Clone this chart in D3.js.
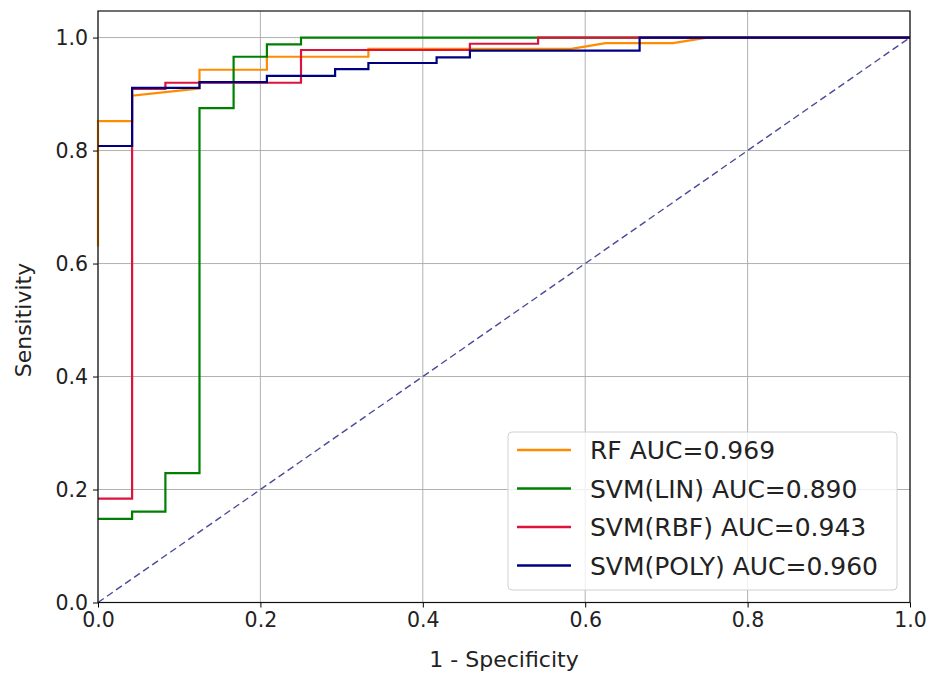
<!DOCTYPE html>
<html>
<head>
<meta charset="utf-8">
<script src="https://cdn.jsdelivr.net/npm/d3@7"></script>
<style>
  body { margin: 0; background: #fff; }
  svg { display: block; font-family: "DejaVu Sans", sans-serif; }
</style>
</head>
<body>
<svg width="932" height="677"></svg>
<script>

// ROC points (1 - specificity, sensitivity)
var rfFpr  = [0, 0, 0.042, 0.042, 0.125, 0.125, 0.208, 0.208, 0.333, 0.333, 0.583, 0.625, 0.708, 0.75, 1];
var rfTpr  = [0.63, 0.852, 0.852, 0.897, 0.91, 0.943, 0.943, 0.966, 0.966, 0.98, 0.98, 0.99, 0.99, 1, 1];

var linFpr = [0, 0.042, 0.042, 0.083, 0.083, 0.125, 0.125, 0.167, 0.167, 0.208, 0.208, 0.25, 0.25, 1];
var linTpr = [0.148, 0.148, 0.161, 0.161, 0.229, 0.229, 0.875, 0.875, 0.966, 0.966, 0.988, 0.988, 1, 1];

var rbfFpr = [0, 0.042, 0.042, 0.083, 0.083, 0.25, 0.25, 0.458, 0.458, 0.542, 0.542, 1];
var rbfTpr = [0.184, 0.184, 0.909, 0.909, 0.92, 0.92, 0.978, 0.978, 0.989, 0.989, 1, 1];

var polyFpr = [0, 0.042, 0.042, 0.125, 0.125, 0.208, 0.208, 0.292, 0.292, 0.333, 0.333, 0.417, 0.417, 0.458, 0.458, 0.667, 0.667, 1];
var polyTpr = [0.808, 0.808, 0.911, 0.911, 0.921, 0.921, 0.932, 0.932, 0.944, 0.944, 0.955, 0.955, 0.965, 0.965, 0.977, 0.977, 1, 1];

var names  = ["RF", "SVM(LIN)", "SVM(RBF)", "SVM(POLY)"];
var aucs   = [0.969, 0.890, 0.943, 0.960];
var colors = ["#ff8c00", "#008000", "#dc143c", "#000080"];

var ticks = [0, 0.2, 0.4, 0.6, 0.8, 1.0];

var svg = d3.select("svg");

var margin = {top: 11, right: 22, bottom: 74.5, left: 98};
var width = +svg.attr("width") - margin.left - margin.right;
var height = +svg.attr("height") - margin.top - margin.bottom;

var x = d3.scaleLinear().domain([0, 1]).range([margin.left, margin.left + width]);
var y = d3.scaleLinear().domain([0, 1.047]).range([margin.top + height, margin.top]);

// grid
var grid = svg.append("g").attr("stroke", "#a8a8a8").attr("stroke-width", 0.9);
grid.selectAll(".gx").data(ticks).enter().append("line")
    .attr("x1", d => x(d)).attr("x2", d => x(d))
    .attr("y1", margin.top).attr("y2", margin.top + height);
grid.selectAll(".gy").data(ticks).enter().append("line")
    .attr("x1", margin.left).attr("x2", margin.left + width)
    .attr("y1", d => y(d)).attr("y2", d => y(d));

// chance line
svg.append("line")
    .attr("x1", x(0)).attr("y1", y(0))
    .attr("x2", x(1)).attr("y2", y(1))
    .attr("stroke", "#4a4a98")
    .attr("stroke-width", 1.4)
    .attr("stroke-dasharray", "7,4");

var line = d3.line()
    .x(d => x(d[0]))
    .y(d => y(d[1]));

var series = [
  d3.zip(rfFpr, rfTpr),
  d3.zip(linFpr, linTpr),
  d3.zip(rbfFpr, rbfTpr),
  d3.zip(polyFpr, polyTpr)
];

series.forEach(function(pts, i) {
  svg.append("path")
      .datum(pts)
      .attr("fill", "none")
      .attr("stroke", colors[i])
      .attr("stroke-width", 2.2)
      .attr("d", line);
});

// axes
var xAxis = svg.append("g")
    .attr("transform", "translate(0," + (margin.top + height) + ")")
    .call(d3.axisBottom(x).tickValues(ticks).tickFormat(d3.format(".1f")).tickSize(5).tickPadding(5));
var yAxis = svg.append("g")
    .attr("transform", "translate(" + margin.left + ",0)")
    .call(d3.axisLeft(y).tickValues(ticks).tickFormat(d3.format(".1f")).tickSize(5).tickPadding(5));

[xAxis, yAxis].forEach(function(a) {
  a.select(".domain").remove();
  a.selectAll("line").attr("stroke", "#000");
  a.selectAll("text").attr("font-size", 20.5).attr("fill", "#222")
      .attr("font-family", "DejaVu Sans");
});

// frame
svg.append("rect")
    .attr("x", margin.left).attr("y", margin.top)
    .attr("width", width).attr("height", height)
    .attr("fill", "none").attr("stroke", "#111").attr("stroke-width", 1.2);

// axis labels
svg.append("text")
    .attr("x", x(0.5)).attr("y", 667)
    .attr("text-anchor", "middle")
    .attr("font-size", 22).attr("fill", "#222")
    .text("1 - Specificity");

svg.append("text")
    .attr("transform", "translate(31," + y(0.5) + ") rotate(-90)")
    .attr("text-anchor", "middle")
    .attr("font-size", 22).attr("fill", "#222")
    .text("Sensitivity");

// legend
var legend = svg.append("g").attr("transform", "translate(508,432)");
legend.append("rect")
    .attr("width", 389).attr("height", 158)
    .attr("rx", 4)
    .attr("fill", "#fff").attr("fill-opacity", 0.8)
    .attr("stroke", "#d0d0d0");

var rows = legend.selectAll(".row").data(names).enter().append("g")
    .attr("transform", (d, i) => "translate(0," + (18 + i * 38.5) + ")");
rows.append("line")
    .attr("x1", 9).attr("x2", 63)
    .attr("stroke", (d, i) => colors[i])
    .attr("stroke-width", 2.5);
rows.append("text")
    .attr("x", 82).attr("dy", "0.36em")
    .attr("font-size", 25).attr("fill", "#222")
    .text((d, i) => d + " AUC=" + aucs[i].toFixed(3));

</script>
</body>
</html>
